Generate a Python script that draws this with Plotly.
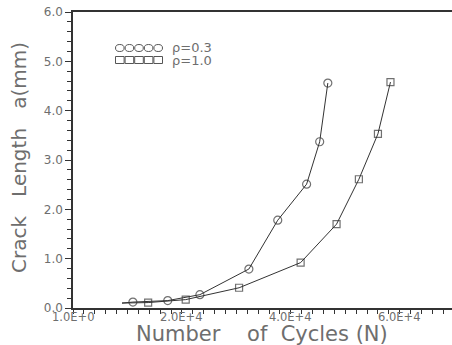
import plotly.graph_objects as go

# Data
n_rho03 = [9000, 11000, 17400, 23300, 32300, 37600, 42900, 45300, 46800]
a_rho03 = [0.10, 0.12, 0.15, 0.27, 0.79, 1.78, 2.51, 3.37, 4.56]
n_rho10 = [9000, 13800, 20700, 30500, 41800, 48400, 52500, 56000, 58300]
a_rho10 = [0.10, 0.11, 0.17, 0.41, 0.92, 1.70, 2.61, 3.53, 4.58]

x_tickvals = [0, 20000, 40000, 60000]
x_ticktext = ["1.0E+0", "2.0E+4", "4.0E+4", "6.0E+4"]
y_tickvals = [0, 1, 2, 3, 4, 5, 6]
y_ticktext = ["0.0", "1.0", "2.0", "3.0", "4.0", "5.0", "6.0"]

legend_labels = ["ρ=0.3", "ρ=1.0"]
x_title = "Number\u00a0\u00a0\u00a0\u00a0of\u00a0\u00a0Cycles\u00a0(N)"
y_title = "Crack\u00a0\u00a0\u00a0Length\u00a0\u00a0\u00a0a(mm)"

LINE = "#333333"
TXT = "#6e6e6e"
FONT = "DejaVu Sans"

W, H = 452, 345
ML, MR, MT, MB = 73, 0, 12, 37
PW, PH = W - ML - MR, H - MT - MB

def px(x):  # pixel -> paper x
    return (x - ML) / PW

def py(y):  # pixel -> paper y
    return (H - MB - y) / PH

fig = go.Figure()

def sizes(n, s):
    return [0] + [s] * (n - 1)

fig.add_trace(go.Scatter(
    x=n_rho03, y=a_rho03, mode="lines+markers",
    line=dict(color=LINE, width=1),
    marker=dict(symbol="circle-open", size=sizes(len(n_rho03), 8),
                color=LINE, line=dict(width=1.2, color=LINE)),
    showlegend=False))
fig.add_trace(go.Scatter(
    x=n_rho10, y=a_rho10, mode="lines+markers",
    line=dict(color=LINE, width=1),
    marker=dict(symbol="square-open", size=sizes(len(n_rho10), 7),
                color=LINE, line=dict(width=1.2, color=LINE)),
    showlegend=False))

# legend keys (five symbols in a row) + labels
legend_shapes = ["circle", "rect"]
legend_rows = [48, 60]
for shp, lab, yc in zip(legend_shapes, legend_labels, legend_rows):
    for k in range(5):
        x0 = 115.5 + k * 9.6
        fig.add_shape(type=shp, xref="paper", yref="paper",
                      x0=px(x0), x1=px(x0 + 8.6),
                      y0=py(yc + 3.5), y1=py(yc - 3.5),
                      line=dict(color="#555555", width=1), fillcolor="rgba(0,0,0,0)")
    fig.add_annotation(x=px(170), y=py(yc), xref="paper", yref="paper",
                       text=lab, showarrow=False, xanchor="left", yanchor="middle",
                       font=dict(family=FONT, size=13, color=TXT))

# x tick labels
for v, t in zip(x_tickvals, x_ticktext):
    fig.add_annotation(x=v, y=py(317), xref="x", yref="paper", text=t,
                       showarrow=False, xanchor="center", yanchor="middle",
                       font=dict(family=FONT, size=11.5, color=TXT))

# axis titles
fig.add_annotation(x=px(262), y=0, xref="paper", yref="paper", yshift=-MB - 3,
                   text=x_title, showarrow=False, xanchor="center", yanchor="bottom",
                   font=dict(family=FONT, size=21, color=TXT))
fig.add_annotation(x=px(19), y=py(158), xref="paper", yref="paper",
                   text=y_title, showarrow=False, textangle=-90,
                   xanchor="center", yanchor="middle",
                   font=dict(family=FONT, size=20, color=TXT))

fig.update_xaxes(
    range=[0, 69600], tickvals=x_tickvals, showticklabels=False,
    showline=True, linecolor=LINE, linewidth=1.5, mirror=True,
    ticks="outside", ticklen=4, tickcolor=LINE, tickwidth=1,
    minor=dict(dtick=2000, ticks="outside", ticklen=4, tickcolor=LINE, tickwidth=1),
    showgrid=False, zeroline=False,
)
fig.update_yaxes(
    range=[0, 6], tickvals=y_tickvals, ticktext=y_ticktext,
    showline=True, linecolor=LINE, linewidth=1.5,
    ticks="outside", ticklen=6, tickcolor=LINE, tickwidth=1,
    minor=dict(dtick=0.2, ticks="outside", ticklen=4, tickcolor=LINE, tickwidth=1),
    showgrid=False, zeroline=False,
    tickfont=dict(family=FONT, size=12, color=TXT),
)

fig.update_layout(
    width=W, height=H,
    margin=dict(l=ML, r=MR, t=MT, b=MB),
    paper_bgcolor="white", plot_bgcolor="white",
)

fig.write_html("out.html")
